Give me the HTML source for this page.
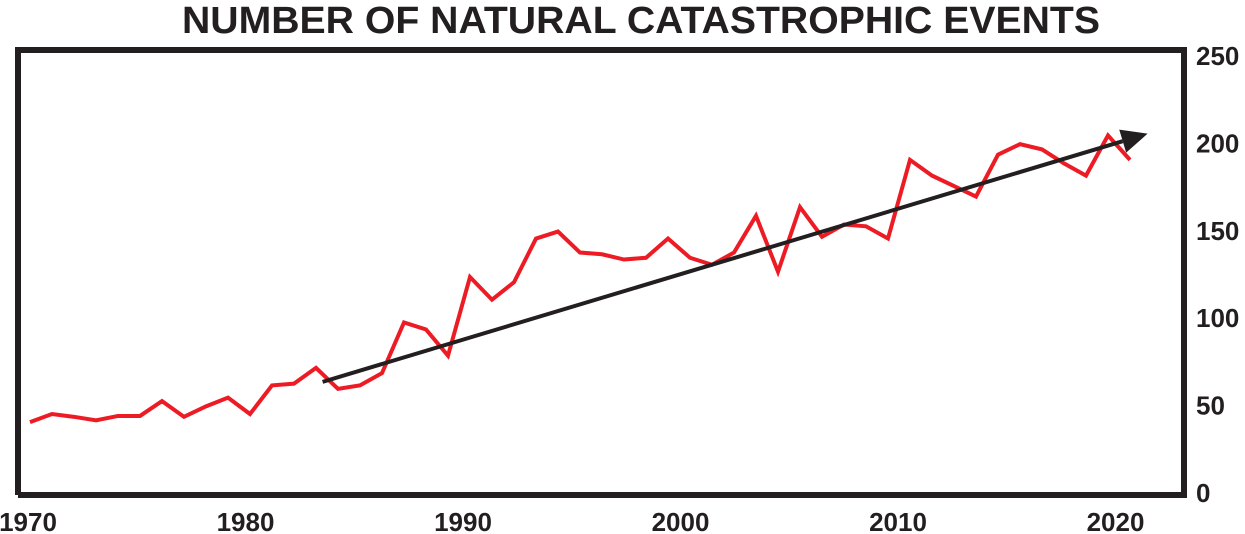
<!DOCTYPE html>
<html><head><meta charset="utf-8"><style>
html,body{margin:0;padding:0;background:#fff;}
svg{display:block;font-family:"Liberation Sans",sans-serif;}
</style></head><body>
<svg id="chart" width="1245" height="534" viewBox="0 0 1245 534">
<text x="641" y="33" text-anchor="middle" font-size="38" font-weight="bold" fill="#231f20" textLength="918" lengthAdjust="spacingAndGlyphs">NUMBER OF NATURAL CATASTROPHIC EVENTS</text>
<polyline points="18,495 18,50 1184,50 1184,495 18,495" fill="none" stroke="#231f20" stroke-width="6"/>
<g id="xticks"></g><g id="yticks"></g><g id="series"></g><g id="trend"></g>
</svg>
<script>
const years=[1970,1971,1972,1973,1974,1975,1976,1977,1978,1979,1980,1981,1982,1983,1984,1985,1986,1987,1988,1989,1990,1991,1992,1993,1994,1995,1996,1997,1998,1999,2000,2001,2002,2003,2004,2005,2006,2007,2008,2009,2010,2011,2012,2013,2014,2015,2016,2017,2018,2019,2020];
const events=[40,44.6,43,41,43.5,43.5,52,43,49,54,44.6,61,62,71,59,61,68,97,93,78,123,110,120,145,149,137,136,133,134,145,134,130,137,158,126,163,146,153,152,145,190,181,175,169,193,199,196,188,181,204,190];
const xTickLabels=[1970,1980,1990,2000,2010,2020];
const yTickLabels=[0,50,100,150,200,250];
const trendStart=[1983.3,63];
const trendEnd=[2020.8,205];
const NS="http://www.w3.org/2000/svg";
function xs(y){return 30+(y-1970)*22;}
function ys(v){return 492-v*1.748;}
const xt=document.getElementById('xticks');
xTickLabels.forEach(v=>{const t=document.createElementNS(NS,'text');
t.setAttribute('x',28+(v-1970)*21.75);t.setAttribute('y',531);t.setAttribute('text-anchor','middle');
t.setAttribute('font-size','26');t.setAttribute('font-weight','bold');t.setAttribute('fill','#231f20');t.textContent=v;


xt.appendChild(t);});
const yt=document.getElementById('yticks');
yTickLabels.forEach(v=>{const t=document.createElementNS(NS,'text');
t.setAttribute('x',1196);t.setAttribute('y',ys(v)+10);
t.setAttribute('font-size','26');t.setAttribute('font-weight','bold');t.setAttribute('fill','#231f20');t.textContent=v;


yt.appendChild(t);});
const pl=document.createElementNS(NS,'polyline');
pl.setAttribute('points',years.map((y,i)=>xs(y)+','+ys(events[i])).join(' '));
pl.setAttribute('fill','none');pl.setAttribute('stroke','#ed1c24');pl.setAttribute('stroke-width','4');pl.setAttribute('stroke-linejoin','miter');


document.getElementById('series').appendChild(pl);
const x1=xs(trendStart[0]),y1=ys(trendStart[1]),x2=xs(trendEnd[0]),y2=ys(trendEnd[1]);
const ang=Math.atan2(y2-y1,x2-x1);const L=26,W=12;
const bx=x2-L*Math.cos(ang),by=y2-L*Math.sin(ang);
const ln=document.createElementNS(NS,'line');
ln.setAttribute('x1',x1);ln.setAttribute('y1',y1);ln.setAttribute('x2',bx);ln.setAttribute('y2',by);
ln.setAttribute('stroke','#231f20');ln.setAttribute('stroke-width','4');


document.getElementById('trend').appendChild(ln);
const hd=document.createElementNS(NS,'polygon');
const px=-Math.sin(ang),py=Math.cos(ang);
hd.setAttribute('points',`${x2},${y2} ${bx+px*W},${by+py*W} ${bx-px*W},${by-py*W}`);
hd.setAttribute('fill','#231f20');


document.getElementById('trend').appendChild(hd);
</script>
</body></html>
